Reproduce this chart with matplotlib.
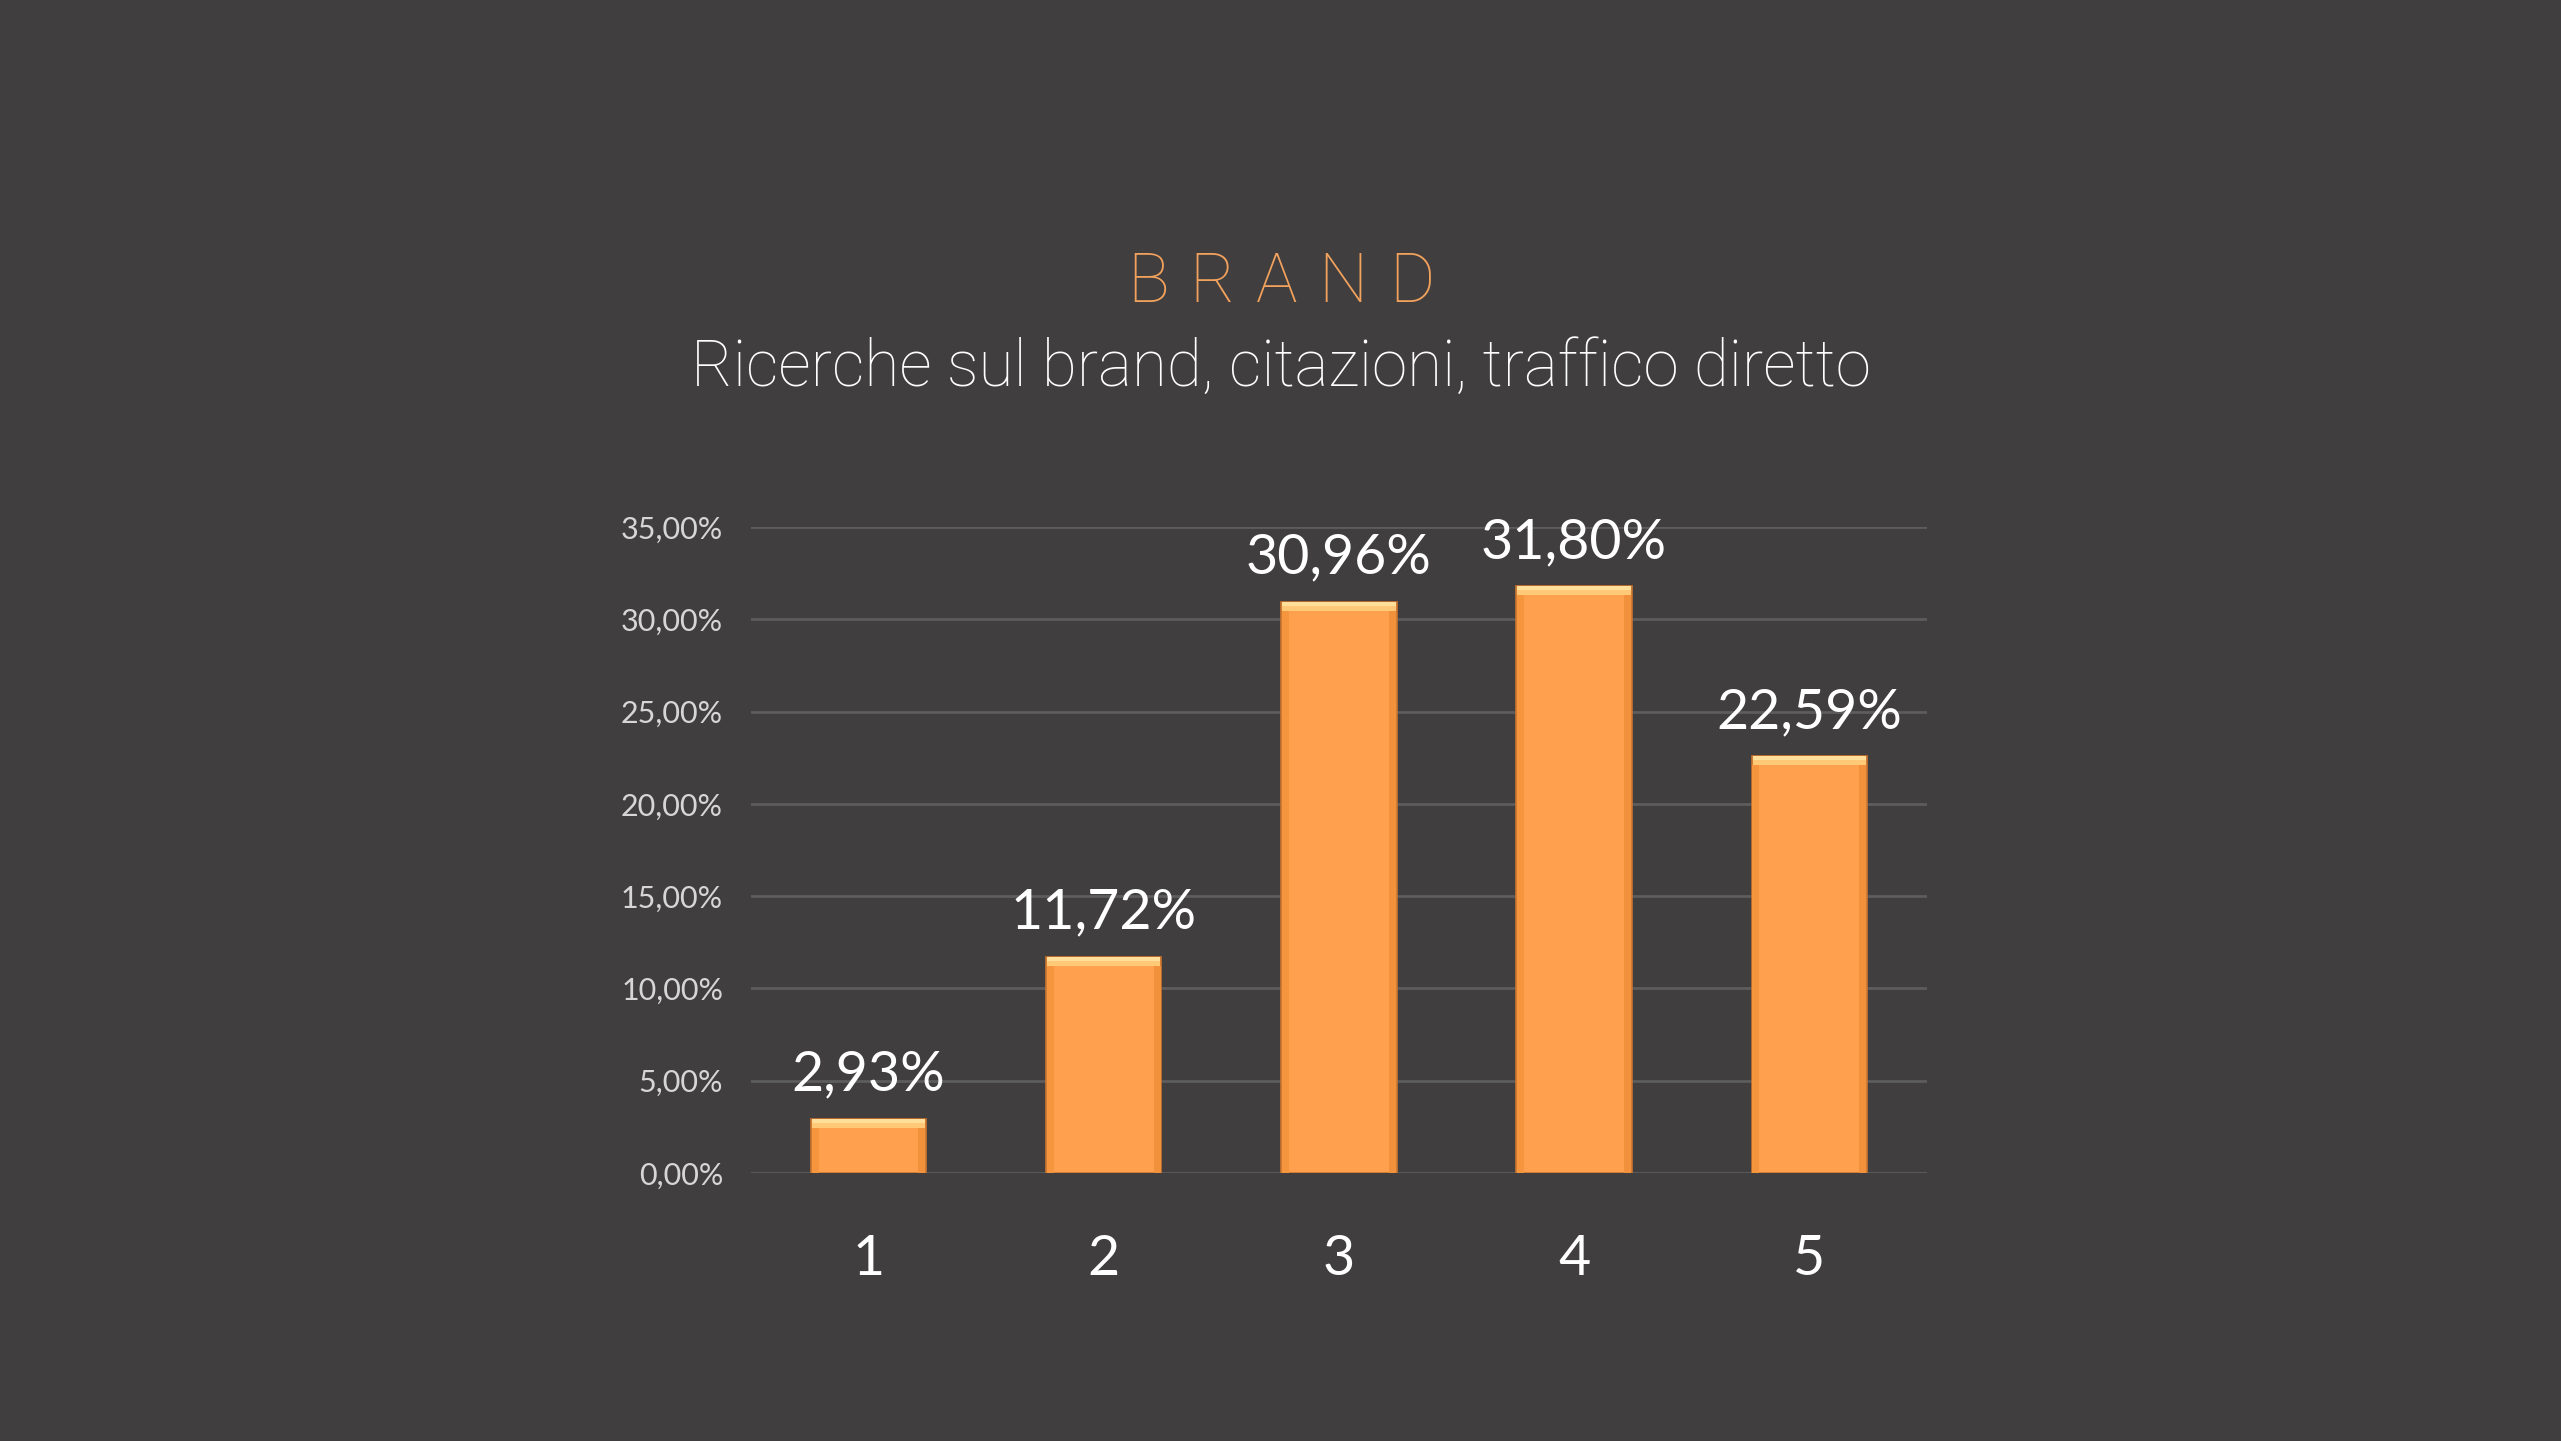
import numpy as np
import matplotlib.pyplot as plt
from matplotlib.ticker import FuncFormatter

categories = ['1', '2', '3', '4', '5']
values = [0.0293, 0.1172, 0.3096, 0.3180, 0.2259]
y_ticks = [0, 0.05, 0.10, 0.15, 0.20, 0.25, 0.30, 0.35]

title = 'BRAND'
subtitle = 'Ricerche sul brand, citazioni, traffico diretto'

bg = '#403E3F'
orange = '#FEA04E'

def pct(v, pos=None):
    return f'{v * 100:.2f}%'.replace('.', ',')

fig = plt.figure(figsize=(25.61, 14.41), dpi=100, facecolor=bg)
ax = fig.add_axes([0.2932, 0.186, 0.4592, 0.4483], facecolor=bg)

x = np.arange(len(categories))
w = 0.49
vals = np.array(values)
ax.bar(x, vals, width=w, color=orange, edgecolor='#C9742E', linewidth=1.2, zorder=3)

# bevel look: light strip on top, slightly darker strips on the sides
bev = 0.005
sw = 0.03
ax.bar(x, bev, bottom=vals - bev, width=w - 0.008, color='#FFC978', zorder=4)
ax.bar(x, bev * 0.45, bottom=vals - bev * 0.45, width=w - 0.008, color='#FFDF9A', zorder=4)
ax.bar(x - w / 2 + sw / 2 + 0.003, vals - bev, width=sw, color='#F5963F', zorder=4)
ax.bar(x + w / 2 - sw / 2 - 0.003, vals - bev, width=sw, color='#F2913C', zorder=4)

for xi, v in zip(x, values):
    ax.annotate(pct(v), (xi, v), xytext=(0, 13), textcoords='offset points',
                ha='center', va='bottom', color='white', fontsize=40, family='Lato')

ax.set_xlim(-0.5, len(categories) - 0.5)
ax.set_ylim(0, 0.35)
ax.set_yticks(y_ticks)
ax.yaxis.set_major_formatter(FuncFormatter(pct))
ax.set_xticks(x)
ax.set_xticklabels(categories)
ax.grid(axis='y', color='#5E5D5D', linewidth=2, zorder=0)
for s in ax.spines.values():
    s.set_visible(False)
ax.tick_params(axis='y', length=0, pad=20, labelsize=22, labelcolor='#D6D6D6')
ax.tick_params(axis='x', length=0, pad=44, labelsize=40, labelcolor='white')
for lbl in ax.get_yticklabels() + ax.get_xticklabels():
    lbl.set_family('Lato')

# spaced-out title: place each letter with fixed tracking
renderer = fig.canvas.get_renderer()
ty = 1 - 283 / 1441
tracking = 21  # px between letters
letters = []
for ch in title:
    t = fig.text(0, ty, ch, ha='left', va='center', color='#F2A25D',
                 fontsize=50, family='Roboto', fontweight='light')
    letters.append(t)
widths = [t.get_window_extent(renderer).width for t in letters]
total = sum(widths) + tracking * (len(letters) - 1)
xpos = (fig.bbox.width - total) / 2
for t, wd in zip(letters, widths):
    t.set_x(xpos / fig.bbox.width)
    xpos += wd + tracking

fig.text(0.5, 1 - 368 / 1441, subtitle, ha='center', va='center', color='white',
         fontsize=46, family='Roboto', fontweight='light')

fig.savefig('out.png', dpi=100, facecolor=bg)
